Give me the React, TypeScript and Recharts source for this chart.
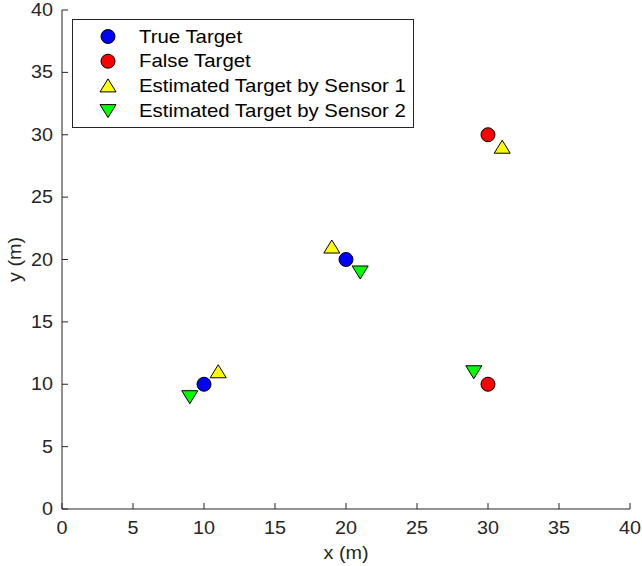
import React from 'react';
import { ScatterChart, Scatter, XAxis, YAxis } from 'recharts';

// target positions (m)
const trueTargets = [
  { x: 10, y: 10 },
  { x: 20, y: 20 },
];
const falseTargets = [
  { x: 30, y: 30 },
  { x: 30, y: 10 },
];
const sensor1Estimates = [
  { x: 11, y: 11 },
  { x: 19, y: 21 },
  { x: 31, y: 29 },
];
const sensor2Estimates = [
  { x: 9, y: 9 },
  { x: 21, y: 19 },
  { x: 29, y: 11 },
];
const axisTicks = [0, 5, 10, 15, 20, 25, 30, 35, 40];

const FONT = 'Liberation Sans, Arial, Helvetica, sans-serif';
const FS = 17.5;
const INK = '#262626';

// Helvetica-ish text, slightly widened
const WideText = ({ x, y, anchor = 'start', rotate = 0, fill = INK, stretch = 1.13, children }: any) => (
  <text
    transform={`translate(${x},${y}) rotate(${rotate}) scale(${stretch},1)`}
    textAnchor={anchor}
    fontSize={FS}
    fill={fill}
    fontFamily={FONT}
  >
    {children}
  </text>
);

const circleShape = (fill: string) => (props: any) => (
  <circle cx={props.cx} cy={props.cy} r={7} fill={fill} stroke="#000" strokeWidth={1} />
);

const triUp = (cx: number, cy: number) =>
  `M${cx},${cy - 7} L${cx + 8},${cy + 6} L${cx - 8},${cy + 6} Z`;
const triDown = (cx: number, cy: number) =>
  `M${cx},${cy + 7} L${cx + 8},${cy - 6} L${cx - 8},${cy - 6} Z`;

const upShape = (props: any) => (
  <path d={triUp(props.cx, props.cy)} fill="#FFFF00" stroke="#000" strokeWidth={1} />
);
const downShape = (props: any) => (
  <path d={triDown(props.cx, props.cy)} fill="#00FF00" stroke="#000" strokeWidth={1} />
);

const XTick = (props: any) => {
  const { x, y, payload } = props;
  return (
    <g>
      <line x1={x} y1={y} x2={x} y2={y - 6} stroke={INK} />
      <WideText x={x} y={y + 25} anchor="middle">{payload.value}</WideText>
    </g>
  );
};

const YTick = (props: any) => {
  const { x, y, payload } = props;
  return (
    <g>
      <line x1={x} y1={y} x2={x + 6} y2={y} stroke={INK} />
      <WideText x={x - 9} y={y + 6} anchor="end">{payload.value}</WideText>
    </g>
  );
};

const XLabel = (props: any) => {
  const { viewBox } = props;
  return <WideText x={viewBox.x + viewBox.width / 2} y={559} anchor="middle">x (m)</WideText>;
};

const YLabel = (props: any) => {
  const { viewBox } = props;
  return <WideText x={21} y={viewBox.y + viewBox.height / 2} anchor="middle" rotate={-90}>y (m)</WideText>;
};

const legendItems = [
  { label: 'True Target', kind: 'circle', color: '#0000FF' },
  { label: 'False Target', kind: 'circle', color: '#FF0000' },
  { label: 'Estimated Target by Sensor 1', kind: 'up', color: '#FFFF00' },
  { label: 'Estimated Target by Sensor 2', kind: 'down', color: '#00FF00' },
];

const LegendBox = () => (
  <svg width={342} height={109} style={{ display: 'block' }}>
    <rect x={0.5} y={0.5} width={341} height={108} fill="#fff" stroke={INK} />
    {legendItems.map((item, i) => {
      const base = 23.5 + i * 24.7;
      const cy = base - 6;
      const cx = 36;
      let icon;
      if (item.kind === 'circle') {
        icon = <circle cx={cx} cy={cy} r={7} fill={item.color} stroke="#000" />;
      } else if (item.kind === 'up') {
        icon = <path d={triUp(cx, cy)} fill={item.color} stroke="#000" />;
      } else {
        icon = <path d={triDown(cx, cy)} fill={item.color} stroke="#000" />;
      }
      return (
        <g key={item.label}>
          {icon}
          <WideText x={67} y={base} fill="#000" stretch={1.165}>{item.label}</WideText>
        </g>
      );
    })}
  </svg>
);

export default function App() {
  return (
    <div style={{ position: 'absolute', left: 0, top: 0, width: 642, height: 566, background: '#fff' }}>
      <ScatterChart width={642} height={566} margin={{ top: 10, right: 12, bottom: 0, left: 0 }}>
        <XAxis
          type="number"
          dataKey="x"
          domain={[0, 40]}
          ticks={axisTicks}
          height={57}
          tickLine={false}
          tickSize={0}
          tickMargin={0}
          tick={<XTick />}
          stroke={INK}
          interval={0}
          label={<XLabel />}
        />
        <YAxis
          type="number"
          dataKey="y"
          domain={[0, 40]}
          ticks={axisTicks}
          width={62}
          tickLine={false}
          tickSize={0}
          tickMargin={0}
          tick={<YTick />}
          stroke={INK}
          interval={0}
          label={<YLabel />}
        />
        <Scatter name="True Target" data={trueTargets} shape={circleShape('#0000FF')} isAnimationActive={false} />
        <Scatter name="False Target" data={falseTargets} shape={circleShape('#FF0000')} isAnimationActive={false} />
        <Scatter name="Estimated Target by Sensor 1" data={sensor1Estimates} shape={upShape} isAnimationActive={false} />
        <Scatter name="Estimated Target by Sensor 2" data={sensor2Estimates} shape={downShape} isAnimationActive={false} />
      </ScatterChart>
      <div style={{ position: 'absolute', left: 72, top: 19 }}>
        <LegendBox />
      </div>
    </div>
  );
}
